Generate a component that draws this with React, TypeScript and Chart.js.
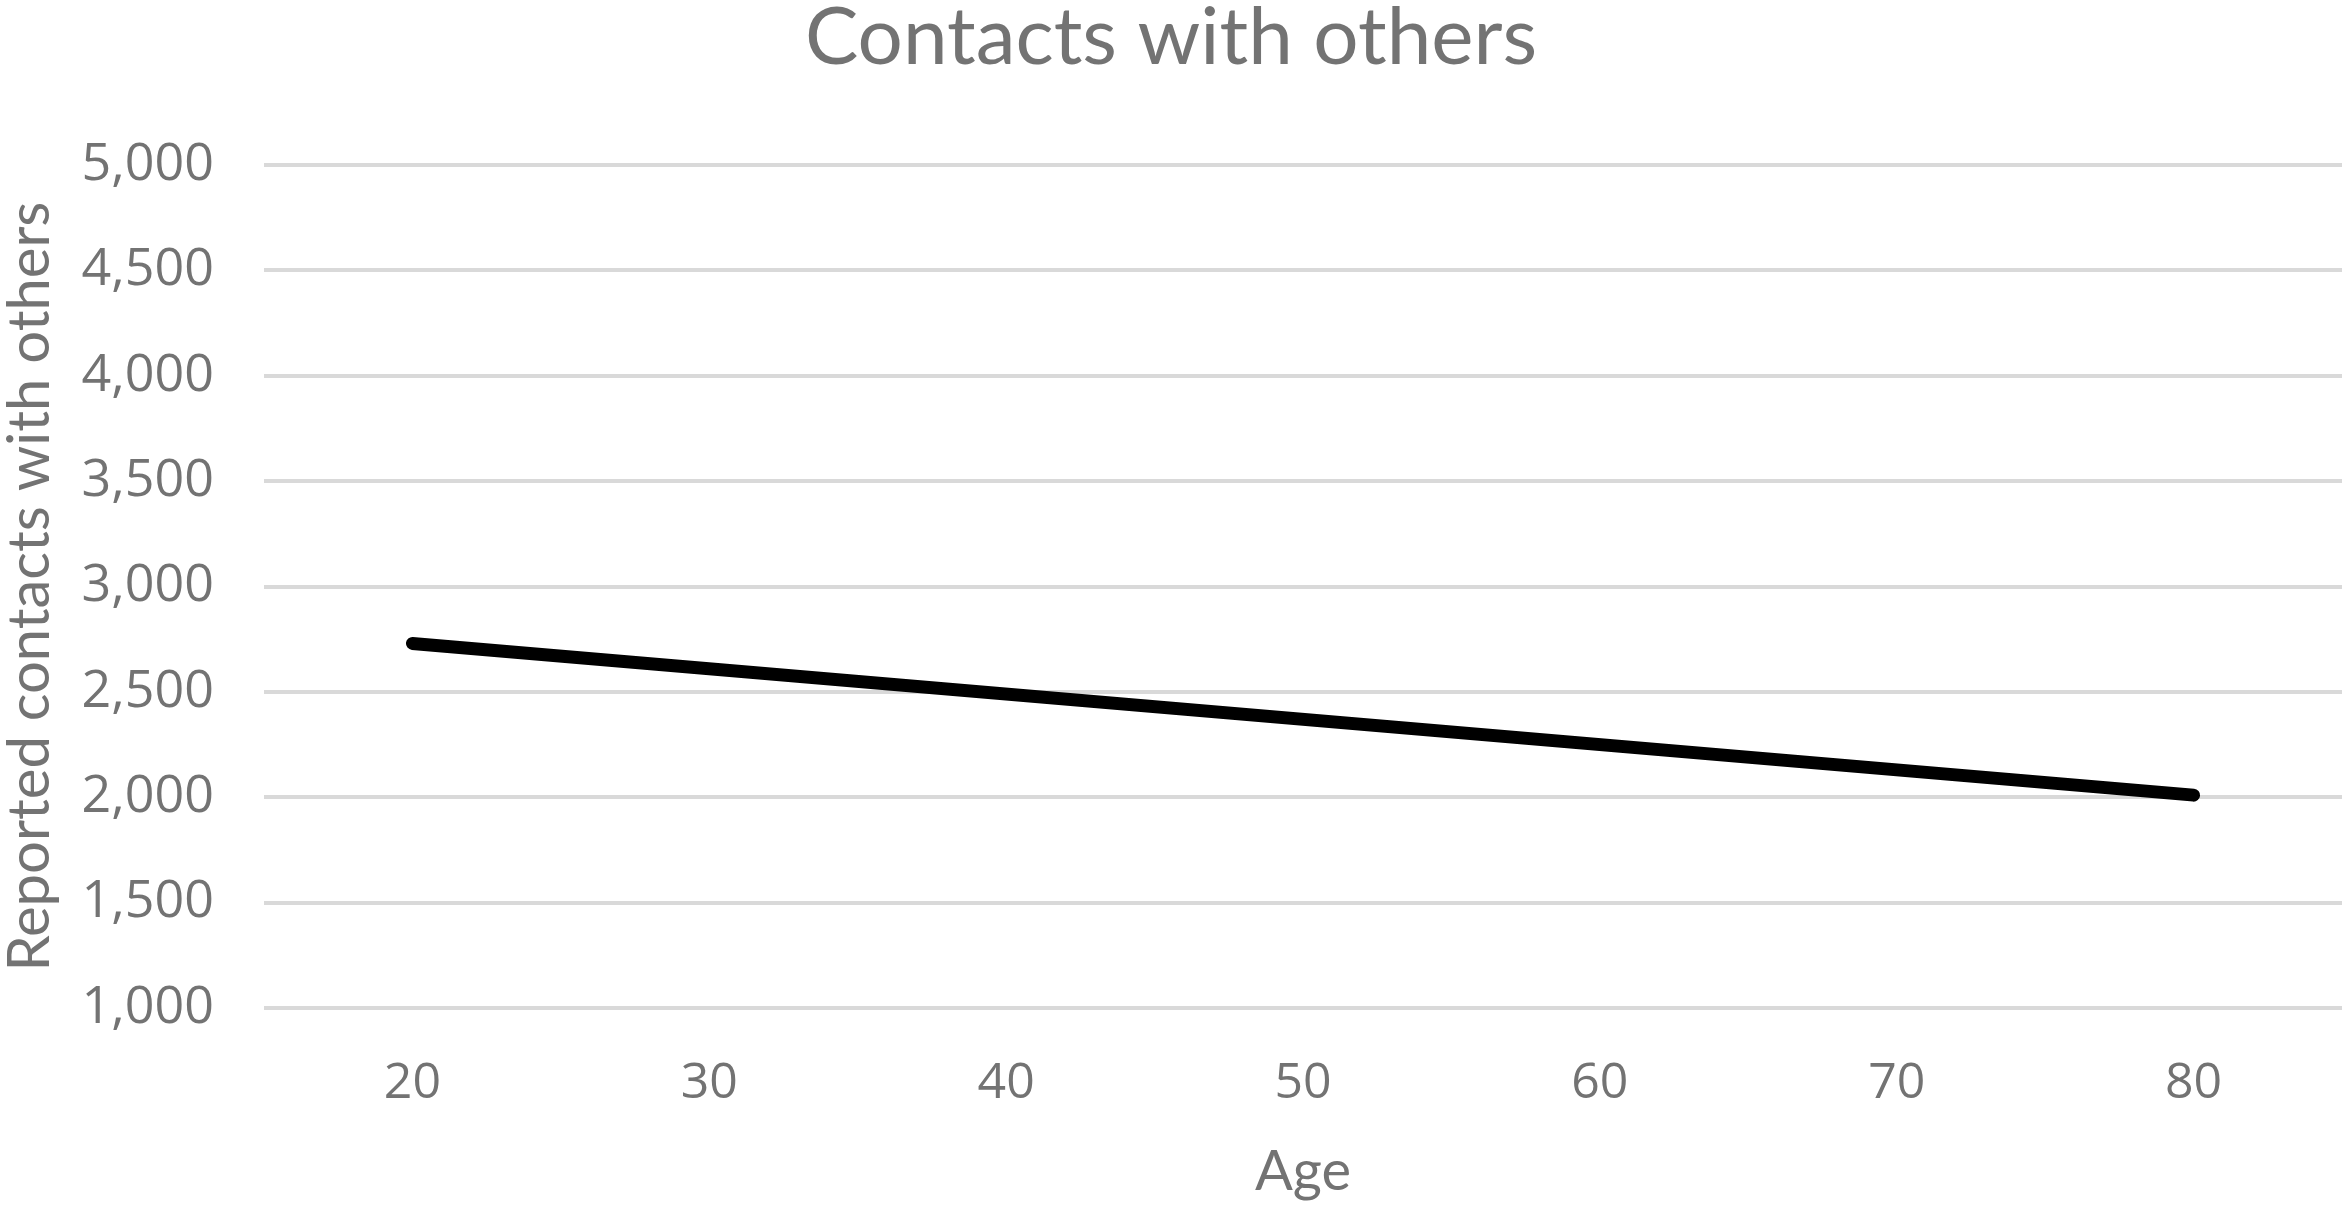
import React, { useEffect, useRef } from "react";
import { Chart, registerables } from "chart.js";

Chart.register(...registerables);

const ages = ["20", "30", "40", "50", "60", "70", "80"];
// Straight trend line: visible values at its two ends (first and last age)
const contacts: (number | null)[] = [2730, null, null, null, null, null, 2010];
const yTicks = [1000, 1500, 2000, 2500, 3000, 3500, 4000, 4500, 5000];

const TEXT = "#737373";

export default function App() {
  const ref = useRef<HTMLCanvasElement | null>(null);

  useEffect(() => {
    if (!ref.current) return;
    const chart = new Chart(ref.current, {
      type: "line",
      data: {
        labels: ages,
        datasets: [
          {
            label: "Reported contacts with others",
            data: contacts,
            borderColor: "#000000",
            backgroundColor: "#000000",
            borderWidth: 13,
            borderCapStyle: "round",
            pointRadius: 0,
            spanGaps: true,
            tension: 0,
          },
        ],
      },
      options: {
        responsive: false,
        animation: false,
        layout: { padding: { left: 0, right: 7, top: 0, bottom: 0 } },
        plugins: {
          legend: { display: false },
          tooltip: { enabled: false },
          title: {
            display: true,
            text: "Contacts with others",
            color: TEXT,
            font: { family: "Lato", size: 80, weight: "normal", lineHeight: 0.95 },
            padding: { top: 0, bottom: 89 },
          },
        },
        scales: {
          x: {
            type: "category",
            offset: true,
            grid: { display: false, drawTicks: false },
            border: { display: false },
            ticks: {
              color: TEXT,
              font: { family: "Open Sans", size: 50 },
              padding: 46,
            },
            title: {
              display: true,
              text: "Age",
              color: TEXT,
              font: { family: "Lato", size: 56, lineHeight: 1.2 },
              padding: { top: 0, bottom: 5 },
            },
            afterFit: (scale: any) => {
              scale.height = 203;
            },
          },
          y: {
            min: yTicks[0],
            max: yTicks[yTicks.length - 1],
            afterBuildTicks: (scale: any) => {
              scale.ticks = yTicks.map((v) => ({ value: v }));
            },
            grid: { color: "#d9d9d9", lineWidth: 4, drawTicks: false },
            border: { display: false },
            ticks: {
              color: TEXT,
              font: { family: "Open Sans", size: 52 },
              padding: 50,
              callback: (v: any) => Number(v).toLocaleString("en-US"),
            },
            title: {
              display: true,
              text: "Reported contacts with others",
              color: TEXT,
              font: { family: "Lato", size: 58, lineHeight: 1.05 },
              padding: { top: 0, bottom: 0 },
            },
            afterFit: (scale: any) => {
              scale.width = 264;
            },
          },
        },
      },
    });
    return () => chart.destroy();
  }, []);

  return (
    <div style={{ position: "absolute", left: 0, top: 0, width: 2349, height: 1211, background: "#ffffff" }}>
      <canvas ref={ref} width={2349} height={1211} style={{ display: "block" }} />
    </div>
  );
}
